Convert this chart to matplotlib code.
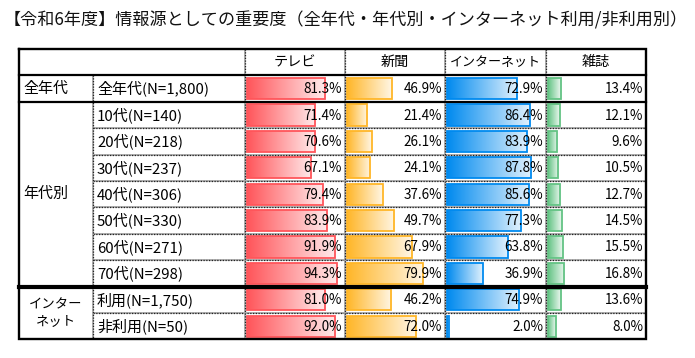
import numpy as np
import matplotlib
matplotlib.use("Agg")
import matplotlib.pyplot as plt
from matplotlib.colors import LinearSegmentedColormap, to_rgb

plt.rcParams['font.family'] = ['Noto Sans CJK JP', 'DejaVu Sans']

title = "【令和6年度】情報源としての重要度（全年代・年代別・インターネット利用/非利用別）"
categories = ['テレビ', '新聞', 'インターネット', '雑誌']
row_labels = ['全年代(N=1,800)', '10代(N=140)', '20代(N=218)', '30代(N=237)',
              '40代(N=306)', '50代(N=330)', '60代(N=271)', '70代(N=298)',
              '利用(N=1,750)', '非利用(N=50)']
group_labels = ['全年代', '年代別', 'インター\nネット']
group_sizes = [1, 7, 2]
tv = [81.3, 71.4, 70.6, 67.1, 79.4, 83.9, 91.9, 94.3, 81.0, 92.0]
news = [46.9, 21.4, 26.1, 24.1, 37.6, 49.7, 67.9, 79.9, 46.2, 72.0]
net = [72.9, 86.4, 83.9, 87.8, 85.6, 77.3, 63.8, 36.9, 74.9, 2.0]
mag = [13.4, 12.1, 9.6, 10.5, 12.7, 14.5, 15.5, 16.8, 13.6, 8.0]
series = [tv, news, net, mag]
colors = ['#FF555A', '#FFB628', '#008AEF', '#63C384']

W, H = 695, 358
fig = plt.figure(figsize=(W / 100, H / 100), dpi=100)

# layout (pixels)
cols = [19, 93, 245, 344.5, 445, 546, 646]
top = 49
rh = 26.4
nrows = len(row_labels)
bottom = top + rh * (nrows + 1)
row_y = [top + rh * (i + 1) for i in range(nrows + 1)]  # boundaries of body rows

# bars (drawn underneath the table overlay)
scale = 0.955
pad = 2.3
for j, (vals, col) in enumerate(zip(series, colors)):
    cl, cr = cols[2 + j], cols[3 + j]
    bax = fig.add_axes([cl / W, (H - bottom) / H, (cr - cl) / W, (bottom - row_y[0]) / H])
    bax.set_zorder(1)
    bax.axis('off')
    bax.patch.set_alpha(0)
    xlim = (-pad / scale, (cr - cl - pad) / scale)
    ylim = (nrows, 0)
    ypos = np.arange(nrows) + 0.5
    bars = bax.barh(ypos, vals, height=0.8, facecolor='none', edgecolor=col,
                    linewidth=1.3, zorder=3)
    c0 = np.array(to_rgb(col))
    c1 = c0 + (1 - c0) * 0.88
    cmap = LinearSegmentedColormap.from_list('g', [c0, c1])
    grad = np.linspace(0, 1, 256).reshape(1, -1)
    for p in bars.patches:
        x0, y0 = p.get_x(), p.get_y()
        w, h = p.get_width(), p.get_height()
        im = bax.imshow(grad, extent=[x0, x0 + w, y0 + h, y0], aspect='auto',
                        cmap=cmap, zorder=2, interpolation='bilinear')
        im.set_clip_path(p)
    bax.set_xlim(*xlim)
    bax.set_ylim(*ylim)

ax = fig.add_axes([0, 0, 1, 1])
ax.set_zorder(5)
ax.patch.set_alpha(0)
ax.set_xlim(0, W)
ax.set_ylim(H, 0)
ax.axis('off')

ax.text(4, 20, title, fontsize=12.3, va='center', ha='left', color='#111')

# header
for j, c in enumerate(categories):
    fs = 9.4 if len(c) > 4 else 10.2
    ax.text((cols[2 + j] + cols[3 + j]) / 2, top + rh / 2, c, fontsize=fs,
            ha='center', va='center')

# row labels
for i, lab in enumerate(row_labels):
    ax.text(cols[1] + 4, row_y[i] + rh / 2, lab, fontsize=10.8, ha='left', va='center')

# group labels
start = 0
for g, n in zip(group_labels, group_sizes):
    yc = row_y[start] + n * rh / 2
    if '\n' in g:
        ax.text((cols[0] + cols[1]) / 2, yc, g, fontsize=9.6, ha='center', va='center',
                multialignment='center', linespacing=1.3)
    else:
        ax.text(cols[0] + 4, yc, g, fontsize=10.8, ha='left', va='center')
    start += n

# values
for j, vals in enumerate(series):
    cr = cols[3 + j]
    for i, v in enumerate(vals):
        ax.text(cr - 3, row_y[i] + rh / 2 + 0.5, f"{v:.1f}%", fontsize=9.7,
                ha='right', va='center', zorder=5)

# dotted lines
def dotted(xs, ys):
    ax.plot(xs, ys, color='#A8A8A8', lw=1.3, solid_capstyle='butt', zorder=1)
    ax.plot(xs, ys, color='#222', lw=0.9, ls=(0, (1, 1.2)), zorder=1)

start = 0
for n in group_sizes:
    for k in range(1, n):
        y = row_y[start + k]
        dotted([cols[1], cols[-1]], [y, y])
    start += n
dotted([cols[1], cols[1]], [row_y[0], bottom])
for x in cols[2:-1]:
    dotted([x, x], [top, bottom])

# solid lines
ax.plot([cols[0], cols[-1]], [row_y[0], row_y[0]], color='black', lw=1.6, zorder=2)
ax.plot([cols[0], cols[-1]], [row_y[1], row_y[1]], color='black', lw=1.6, zorder=2)
ax.plot([cols[0], cols[-1]], [row_y[8], row_y[8]], color='black', lw=3, zorder=2)
ax.plot([cols[0], cols[-1], cols[-1], cols[0], cols[0]],
        [top, top, bottom, bottom, top], color='black', lw=1.7, zorder=2,
        solid_joinstyle='miter')

fig.savefig('out.png', dpi=100)
